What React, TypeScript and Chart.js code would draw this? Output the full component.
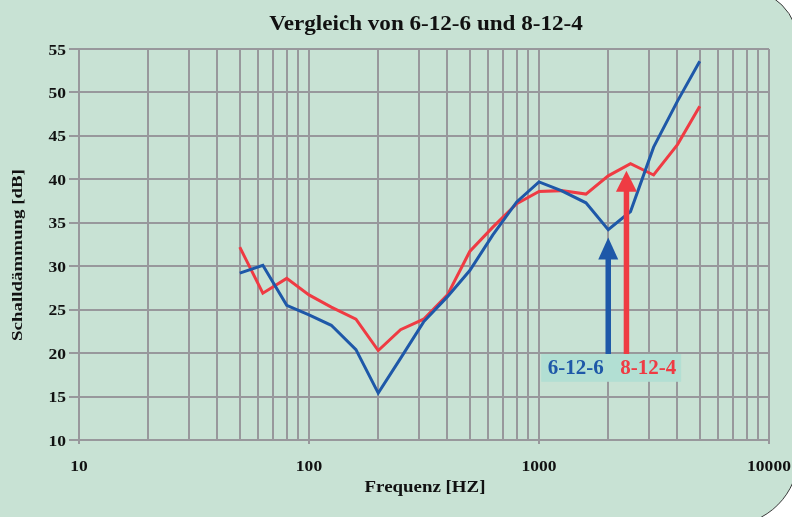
import React, { useEffect, useRef } from 'react';
import { Chart, registerables } from 'chart.js';

Chart.register(...registerables);

// ---------- data ----------
const frequencies = [50, 63, 80, 100, 125, 160, 200, 250, 315, 400, 500, 630, 800, 1000, 1250, 1600, 2000, 2500, 3150, 4000, 5000];
const series6126 = [29.2, 30.1, 25.5, 24.4, 23.2, 20.4, 15.4, 19.4, 23.6, 26.5, 29.5, 33.6, 37.4, 39.7, 38.7, 37.3, 34.2, 36.3, 43.7, 49.0, 53.6];
const series8124 = [32.2, 26.9, 28.6, 26.7, 25.3, 23.9, 20.3, 22.7, 23.9, 26.7, 31.7, 34.5, 37.2, 38.6, 38.7, 38.3, 40.4, 41.8, 40.5, 44.0, 48.4];
const seriesNames = ['6-12-6', '8-12-4'];

const xMajorTicks = [10, 100, 1000, 10000];
const xMinorMultipliers = [1, 2, 3, 4, 5, 6, 7, 8, 9];
const yMin = 10;
const yMax = 55;
const yStep = 5;

// annotation arrows (data units)
const arrowFreqs = [2000, 2400];
const arrowTipDb = [33.3, 41.0];
const labelBoxFreqRange = [1022, 4150];
const labelBoxDbRange = [16.7, 19.9];

const titleText = 'Vergleich von 6-12-6 und 8-12-4';
const xTitleText = 'Frequenz [HZ]';
const yTitleText = 'Schalldämmung [dB]';

// ---------- style ----------
const BLUE = '#1e58a8';
const RED = '#ef3b43';
const GRID = '#98989c';
const TEXT = '#111111';
const FAMILY = '"Liberation Serif", "Times New Roman", serif';

const xGridValues: number[] = [];
xMajorTicks.forEach((d, i) => {
  if (i === xMajorTicks.length - 1) {
    xGridValues.push(d);
  } else {
    xMinorMultipliers.forEach((m) => xGridValues.push(d * m));
  }
});

// draw horizontally stretched text (the reference typeface is a widened Times)
function stretchedText(ctx: any, text: string, x: number, y: number, size: number, sx: number, align: string) {
  ctx.save();
  ctx.font = `bold ${size}px ${FAMILY}`;
  ctx.textAlign = align;
  ctx.textBaseline = 'middle';
  ctx.translate(x, y);
  ctx.scale(sx, 1);
  ctx.fillText(text, 0, 0);
  ctx.restore();
}

const annotationPlugin = {
  id: 'customAnnotations',
  afterDatasetsDraw(chart: any) {
    const { ctx, scales } = chart;
    const x = scales.x;
    const y = scales.y;
    // label box
    const bx0 = x.getPixelForValue(labelBoxFreqRange[0]);
    const bx1 = x.getPixelForValue(labelBoxFreqRange[1]);
    const by0 = y.getPixelForValue(labelBoxDbRange[1]);
    const by1 = y.getPixelForValue(labelBoxDbRange[0]);
    ctx.save();
    ctx.fillStyle = '#b2dfd3';
    ctx.fillRect(bx0, by0, bx1 - bx0, by1 - by0);

    // arrows
    const colors = [BLUE, RED];
    const headW = [20, 21];
    const headH = [22, 21];
    arrowFreqs.forEach((f, i) => {
      const ax = x.getPixelForValue(f);
      const tip = y.getPixelForValue(arrowTipDb[i]);
      ctx.fillStyle = colors[i];
      ctx.fillRect(ax - 2.75, tip + headH[i] - 1, 5.5, by0 - (tip + headH[i] - 1));
      ctx.beginPath();
      ctx.moveTo(ax, tip);
      ctx.lineTo(ax + headW[i] / 2, tip + headH[i]);
      ctx.lineTo(ax - headW[i] / 2, tip + headH[i]);
      ctx.closePath();
      ctx.fill();
    });

    // label texts
    ctx.font = `bold 21px ${FAMILY}`;
    ctx.textBaseline = 'middle';
    ctx.textAlign = 'left';
    const ty = (by0 + by1) / 2 + 1;
    ctx.fillStyle = BLUE;
    ctx.fillText(seriesNames[0], bx0 + 6.5, ty);
    ctx.fillStyle = RED;
    ctx.fillText(seriesNames[1], bx0 + 79, ty);
    ctx.restore();
  },
  afterDraw(chart: any) {
    const { ctx, chartArea, scales } = chart;
    const x = scales.x;
    const y = scales.y;
    ctx.save();
    ctx.fillStyle = TEXT;

    // chart title
    stretchedText(ctx, titleText, (chartArea.left + chartArea.right) / 2 + 2, 25, 20, 1.155, 'center');

    // x tick labels (major decades only)
    x.ticks.forEach((t: any) => {
      if (xMajorTicks.includes(t.value)) {
        stretchedText(ctx, String(t.value), x.getPixelForValue(t.value), chartArea.bottom + 26.5, 15.5, 1.13, 'center');
      }
    });
    // y tick labels
    y.ticks.forEach((t: any) => {
      stretchedText(ctx, String(t.value), 66, y.getPixelForValue(t.value) + 1.5, 15.5, 1.13, 'right');
    });

    // axis titles
    stretchedText(ctx, xTitleText, (chartArea.left + chartArea.right) / 2 + 1, 487.5, 17.5, 1.08, 'center');

    ctx.save();
    ctx.translate(18, (chartArea.top + chartArea.bottom) / 2 + 10.5);
    ctx.rotate(-Math.PI / 2);
    stretchedText(ctx, yTitleText, 0, 0, 15.5, 1.22, 'center');
    ctx.restore();

    ctx.restore();
  },
};

export default function App() {
  const canvasRef = useRef<HTMLCanvasElement | null>(null);

  useEffect(() => {
    if (!canvasRef.current) return;
    const chart = new Chart(canvasRef.current, {
      type: 'line',
      data: {
        datasets: [
          {
            label: seriesNames[0],
            data: frequencies.map((f, i) => ({ x: f, y: series6126[i] })),
            borderColor: BLUE,
            backgroundColor: BLUE,
            borderWidth: 3,
            pointRadius: 0,
            tension: 0,
            fill: false,
          },
          {
            label: seriesNames[1],
            data: frequencies.map((f, i) => ({ x: f, y: series8124[i] })),
            borderColor: RED,
            backgroundColor: RED,
            borderWidth: 3,
            pointRadius: 0,
            tension: 0,
            fill: false,
          },
        ],
      },
      options: {
        animation: false,
        responsive: false,
        maintainAspectRatio: false,
        layout: { padding: { top: 49, right: 23, left: 0, bottom: 0 } },
        plugins: {
          legend: { display: false },
          title: { display: false },
          tooltip: { enabled: false },
        },
        scales: {
          x: {
            type: 'logarithmic',
            min: xMajorTicks[0],
            max: xMajorTicks[xMajorTicks.length - 1],
            afterBuildTicks: (scale: any) => {
              scale.ticks = xGridValues.map((v) => ({ value: v, major: xMajorTicks.includes(v) }));
            },
            afterFit: (scale: any) => {
              scale.height = 77;
              scale.paddingLeft = 0;
              scale.paddingRight = 0;
            },
            grid: {
              color: GRID,
              lineWidth: 2,
              tickLength: 4,
              tickColor: (c: any) => (c.tick && xMajorTicks.includes(c.tick.value) ? GRID : 'rgba(0,0,0,0)'),
            },
            border: { color: GRID, width: 2 },
            ticks: { display: false, autoSkip: false, maxRotation: 0 },
            title: { display: false, text: xTitleText },
          },
          y: {
            type: 'linear',
            min: yMin,
            max: yMax,
            afterFit: (scale: any) => {
              scale.width = 79;
            },
            grid: { color: GRID, lineWidth: 2, tickLength: 10 },
            border: { color: GRID, width: 2 },
            ticks: { display: false, stepSize: yStep },
            title: { display: false, text: yTitleText },
          },
        },
      },
      plugins: [annotationPlugin],
    } as any);
    return () => chart.destroy();
  }, []);

  return (
    <div style={{ position: 'fixed', left: 0, top: 0, width: 792, height: 517, background: '#ffffff', overflow: 'hidden' }}>
      <div
        style={{
          position: 'absolute',
          left: -60,
          top: -12,
          width: 859,
          height: 538,
          boxSizing: 'border-box',
          background: '#c8e2d4',
          border: '1px solid #3a3a3a',
          borderTopRightRadius: 57,
          borderBottomRightRadius: 71,
        }}
      />
      <canvas ref={canvasRef} width={792} height={517} style={{ position: 'absolute', left: 0, top: 0, width: 792, height: 517 }} />
    </div>
  );
}
